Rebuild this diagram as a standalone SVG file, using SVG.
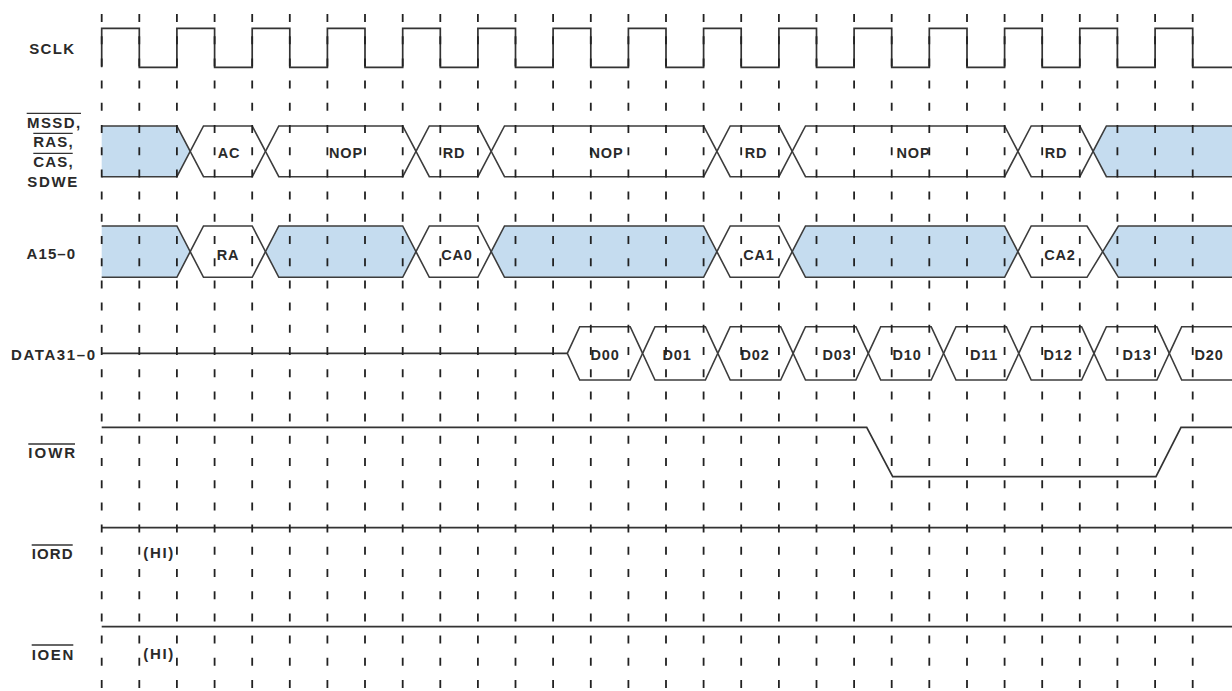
<svg xmlns="http://www.w3.org/2000/svg" width="1232" height="691" viewBox="0 0 1232 691">
<style>
  .sig{fill:none;stroke:#333;stroke-width:1.7;stroke-linejoin:miter}
  .bus{fill:#fff;stroke:#3c3c3c;stroke-width:1.6}
  .bz{fill:#c5dcef;stroke:#3c3c3c;stroke-width:1.6}
  .grid{fill:none;stroke:#222;stroke-width:1.8;stroke-dasharray:8 14.2}
  .ov{stroke:#333;stroke-width:1.3}
  .lbl{font-family:"Liberation Sans",Arial,sans-serif;font-weight:bold;font-size:15px;fill:#2a2a2a;text-anchor:middle}
  .bl{font-family:"Liberation Sans",Arial,sans-serif;font-weight:bold;font-size:14.5px;fill:#2a2a2a;text-anchor:middle;letter-spacing:0.8px}
</style>

<g id="labels">
  <text class="lbl" x="51.7" y="54" textLength="45" lengthAdjust="spacing">SCLK</text>
  <text class="lbl" x="53.6" y="127.5" textLength="53" lengthAdjust="spacing">MSSD,</text>
  <line class="ov" x1="26.7" y1="113.3" x2="81" y2="113.3"/>
  <text class="lbl" x="53" y="147" textLength="39.5" lengthAdjust="spacing">RAS,</text>
  <line class="ov" x1="33.3" y1="133.3" x2="72.7" y2="133.3"/>
  <text class="lbl" x="53" y="166.5" textLength="39.5" lengthAdjust="spacing">CAS,</text>
  <line class="ov" x1="33.3" y1="153.3" x2="72.7" y2="153.3"/>
  <text class="lbl" x="52.3" y="186.5" textLength="50" lengthAdjust="spacing">SDWE</text>
  <text class="lbl" x="50.8" y="258.5" textLength="48.5" lengthAdjust="spacing">A15–0</text>
  <text class="lbl" x="53" y="359.5" textLength="84" lengthAdjust="spacing">DATA31–0</text>
  <text class="lbl" x="51.7" y="457.5" textLength="47" lengthAdjust="spacing">IOWR</text>
  <line class="ov" x1="28.3" y1="444" x2="75" y2="444"/>
  <text class="lbl" x="52.2" y="558.5" textLength="41" lengthAdjust="spacing">IORD</text>
  <line class="ov" x1="31.7" y1="545" x2="72.7" y2="545"/>
  <text class="lbl" x="52.5" y="659.5" textLength="41.6" lengthAdjust="spacing">IOEN</text>
  <line class="ov" x1="31.7" y1="645" x2="73.3" y2="645"/>
</g>

<g id="sclk">
  <path class="sig" d="M101.7,67.3 V28.3 H139.3 V67.3 H176.9 V28.3 H214.6 V67.3 H252.2 V28.3 H289.8 V67.3 H327.4 V28.3 H365 V67.3 H402.7 V28.3 H440.3 V67.3 H477.9 V28.3 H515.5 V67.3 H553.1 V28.3 H590.8 V67.3 H628.4 V28.3 H666 V67.3 H703.6 V28.3 H741.2 V67.3 H778.9 V28.3 H816.5 V67.3 H854.1 V28.3 H891.7 V67.3 H929.3 V28.3 H967 V67.3 H1004.6 V28.3 H1042.2 V67.3 H1079.8 V28.3 H1117.4 V67.3 H1155.1 V28.3 H1192.7 V67.3 H1232"/>
</g>

<g id="mssd">
  <path class="bz" d="M101.7,126 H176.9 L190.2,151.35 L176.9,176.7 H101.7"/>
  <path class="bus" d="M190.2,151.35 L203.5,126 H252.2 L265.5,151.35 L252.2,176.7 H203.5 Z"/>
  <path class="bus" d="M265.5,151.35 L278.8,126 H402.7 L416,151.35 L402.7,176.7 H278.8 Z"/>
  <path class="bus" d="M416,151.35 L429.3,126 H477.9 L491.2,151.35 L477.9,176.7 H429.3 Z"/>
  <path class="bus" d="M491.2,151.35 L504.5,126 H703.6 L716.9,151.35 L703.6,176.7 H504.5 Z"/>
  <path class="bus" d="M716.9,151.35 L730.2,126 H778.9 L792.2,151.35 L778.9,176.7 H730.2 Z"/>
  <path class="bus" d="M792.2,151.35 L805.5,126 H1004.6 L1017.9,151.35 L1004.6,176.7 H805.5 Z"/>
  <path class="bus" d="M1017.9,151.35 L1031.2,126 H1079.8 L1093.1,151.35 L1079.8,176.7 H1031.2 Z"/>
  <path class="bz" d="M1232,126 H1106.4 L1093.1,151.35 L1106.4,176.7 H1232"/>
  <text class="bl" x="229" y="157.5">AC</text>
  <text class="bl" x="346" y="157.5">NOP</text>
  <text class="bl" x="454" y="157.5">RD</text>
  <text class="bl" x="606.5" y="157.5">NOP</text>
  <text class="bl" x="756" y="157.5">RD</text>
  <text class="bl" x="913.5" y="157.5">NOP</text>
  <text class="bl" x="1056" y="157.5">RD</text>
</g>

<g id="a15">
  <path class="bz" d="M101.7,226 H176.9 L190.2,251.65 L176.9,277.3 H101.7"/>
  <path class="bus" d="M190.2,251.65 L203.5,226 H252.2 L265.5,251.65 L252.2,277.3 H203.5 Z"/>
  <path class="bz" d="M265.5,251.65 L278.8,226 H402.7 L416,251.65 L402.7,277.3 H278.8 Z"/>
  <path class="bus" d="M416,251.65 L429.3,226 H477.9 L491.2,251.65 L477.9,277.3 H429.3 Z"/>
  <path class="bz" d="M491.2,251.65 L504.5,226 H703.6 L716.9,251.65 L703.6,277.3 H504.5 Z"/>
  <path class="bus" d="M716.9,251.65 L730.2,226 H778.9 L792.2,251.65 L778.9,277.3 H730.2 Z"/>
  <path class="bz" d="M792.2,251.65 L805.5,226 H1004.6 L1017.9,251.65 L1004.6,277.3 H805.5 Z"/>
  <path class="bus" d="M1017.9,251.65 L1031.2,226 H1087 L1102.7,251.65 L1087,277.3 H1031.2 Z"/>
  <path class="bz" d="M1232,226 H1118.4 L1102.7,251.65 L1118.4,277.3 H1232"/>
  <text class="bl" x="228" y="259.5">RA</text>
  <text class="bl" x="457" y="259.5">CA0</text>
  <text class="bl" x="759" y="259.5">CA1</text>
  <text class="bl" x="1060" y="259.5">CA2</text>
</g>

<g id="data">
  <path class="sig" d="M101.7,353.35 H567.3"/>
  <path class="bus" d="M567.3,353.35 L579.7,326.7 H630.2 L642.6,353.35 L630.2,380 H579.7 Z"/>
  <path class="bus" d="M642.6,353.35 L655,326.7 H705.4 L717.8,353.35 L705.4,380 H655 Z"/>
  <path class="bus" d="M717.8,353.35 L730.2,326.7 H780.7 L793.1,353.35 L780.7,380 H730.2 Z"/>
  <path class="bus" d="M793.1,353.35 L805.5,326.7 H855.9 L868.3,353.35 L855.9,380 H805.5 Z"/>
  <path class="bus" d="M868.3,353.35 L880.7,326.7 H931.2 L943.6,353.35 L931.2,380 H880.7 Z"/>
  <path class="bus" d="M943.6,353.35 L956,326.7 H1006.4 L1018.8,353.35 L1006.4,380 H956 Z"/>
  <path class="bus" d="M1018.8,353.35 L1031.2,326.7 H1081.6 L1094,353.35 L1081.6,380 H1031.2 Z"/>
  <path class="bus" d="M1094,353.35 L1106.4,326.7 H1156.9 L1169.3,353.35 L1156.9,380 H1106.4 Z"/>
  <path class="bus" d="M1232,326.7 H1181.7 L1169.3,353.35 L1181.7,380 H1232"/>
  <text class="bl" x="605" y="360">D00</text>
  <text class="bl" x="677" y="360">D01</text>
  <text class="bl" x="755" y="360">D02</text>
  <text class="bl" x="837" y="360">D03</text>
  <text class="bl" x="907" y="360">D10</text>
  <text class="bl" x="984" y="360">D11</text>
  <text class="bl" x="1058" y="360">D12</text>
  <text class="bl" x="1137" y="360">D13</text>
  <text class="bl" x="1209" y="360">D20</text>
</g>

<g id="iowr">
  <path class="sig" d="M101.7,427.3 H866.7 L892.7,476.7 H1156 L1181,427.3 H1232"/>
</g>

<g id="iord">
  <path class="sig" d="M101.7,527.7 H1232"/>
  <text class="lbl" x="158.3" y="558" textLength="30" lengthAdjust="spacing">(HI)</text>
</g>

<g id="ioen">
  <path class="sig" d="M101.7,626.7 H1232"/>
  <text class="lbl" x="158.3" y="659" textLength="30" lengthAdjust="spacing">(HI)</text>
</g>

<g id="connectors">
  <path class="grid" d="M101.7,14 V691 M139.3,14 V691 M176.9,14 V691 M214.6,14 V691 M252.2,14 V691 M289.8,14 V691 M327.4,14 V691 M365,14 V691 M402.7,14 V691 M440.3,14 V691 M477.9,14 V691 M515.5,14 V691 M553.1,14 V691 M590.8,14 V691 M628.4,14 V691 M666,14 V691 M703.6,14 V691 M741.2,14 V691 M778.9,14 V691 M816.5,14 V691 M854.1,14 V691 M891.7,14 V691 M929.3,14 V691 M967,14 V691 M1004.6,14 V691 M1042.2,14 V691 M1079.8,14 V691 M1117.4,14 V691 M1155.1,14 V691 M1192.7,14 V691"/>
</g>
</svg>
